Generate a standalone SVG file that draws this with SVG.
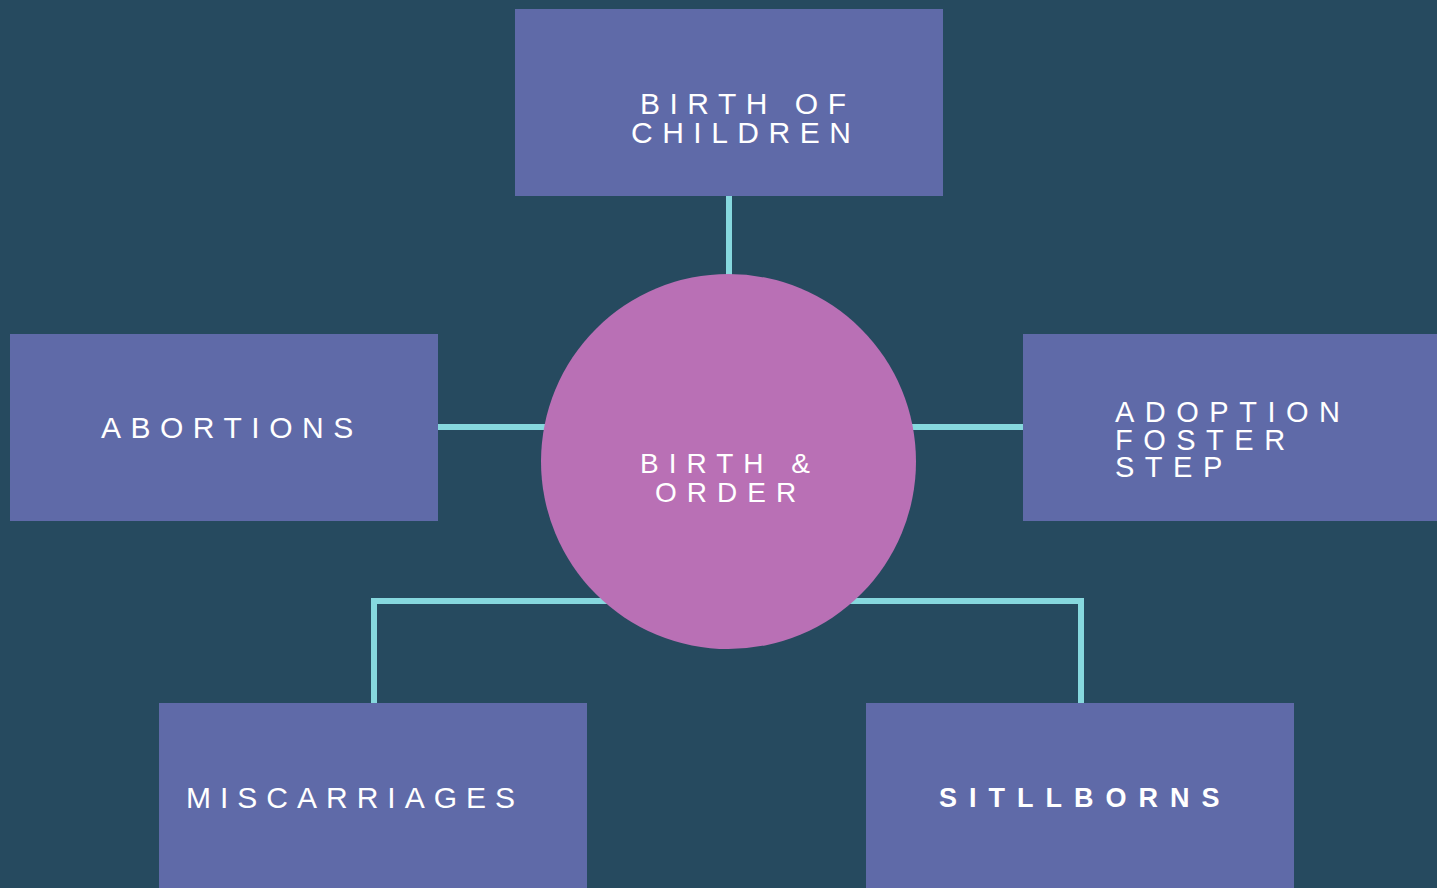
<svg xmlns="http://www.w3.org/2000/svg" width="1437" height="888" viewBox="0 0 1437 888">
<style>
.box{fill:#5f6aa8}
.hub{fill:#b970b5}
.lbl{font-family:"Liberation Sans",Arial,sans-serif;font-size:30px;fill:#ffffff;letter-spacing:9.5px}
.bold{font-weight:bold;font-size:27px;letter-spacing:12px}
.conn{fill:none;stroke:#86d8de;stroke-width:6}
</style>
<rect width="1437" height="888" fill="#264a5f"/>
<g id="connectors">
<line class="conn" x1="729" y1="190" x2="729" y2="290"/>
<line class="conn" x1="432" y1="427" x2="560" y2="427"/>
<line class="conn" x1="900" y1="427" x2="1030" y2="427"/>
<polyline class="conn" points="620,601 374,601 374,710"/>
<polyline class="conn" points="840,601 1081,601 1081,710"/>
</g>
<g id="birth-of-children">
<rect class="box" x="515" y="9" width="428" height="187"/>
<text class="lbl" x="640" y="114">BIRTH OF</text>
<text class="lbl" x="631" y="143">CHILDREN</text>
</g>
<g id="abortions">
<rect class="box" x="10" y="334" width="428" height="187"/>
<text class="lbl" x="101" y="438">ABORTIONS</text>
</g>
<g id="adoption">
<rect class="box" x="1023" y="334" width="428" height="187"/>
<text class="lbl" style="font-size:29px;letter-spacing:10.5px" x="1115" y="422">ADOPTION</text>
<text class="lbl" style="font-size:29px;letter-spacing:10.5px" x="1115" y="450">FOSTER</text>
<text class="lbl" style="font-size:29px;letter-spacing:10.5px" x="1115" y="477">STEP</text>
</g>
<g id="miscarriages">
<rect class="box" x="159" y="703" width="428" height="190"/>
<text class="lbl" style="letter-spacing:9px" x="186" y="808">MISCARRIAGES</text>
</g>
<g id="stillborns">
<rect class="box" x="866" y="703" width="428" height="190"/>
<text class="lbl bold" x="939" y="807">SITLLBORNS</text>
</g>
<g id="birth-order">
<circle class="hub" cx="728.5" cy="461.5" r="187.5"/>
<text class="lbl" style="font-size:28px;letter-spacing:10px" x="640" y="473">BIRTH &amp;</text>
<text class="lbl" style="font-size:28px;letter-spacing:10px" x="655" y="502">ORDER</text>
</g>
</svg>
